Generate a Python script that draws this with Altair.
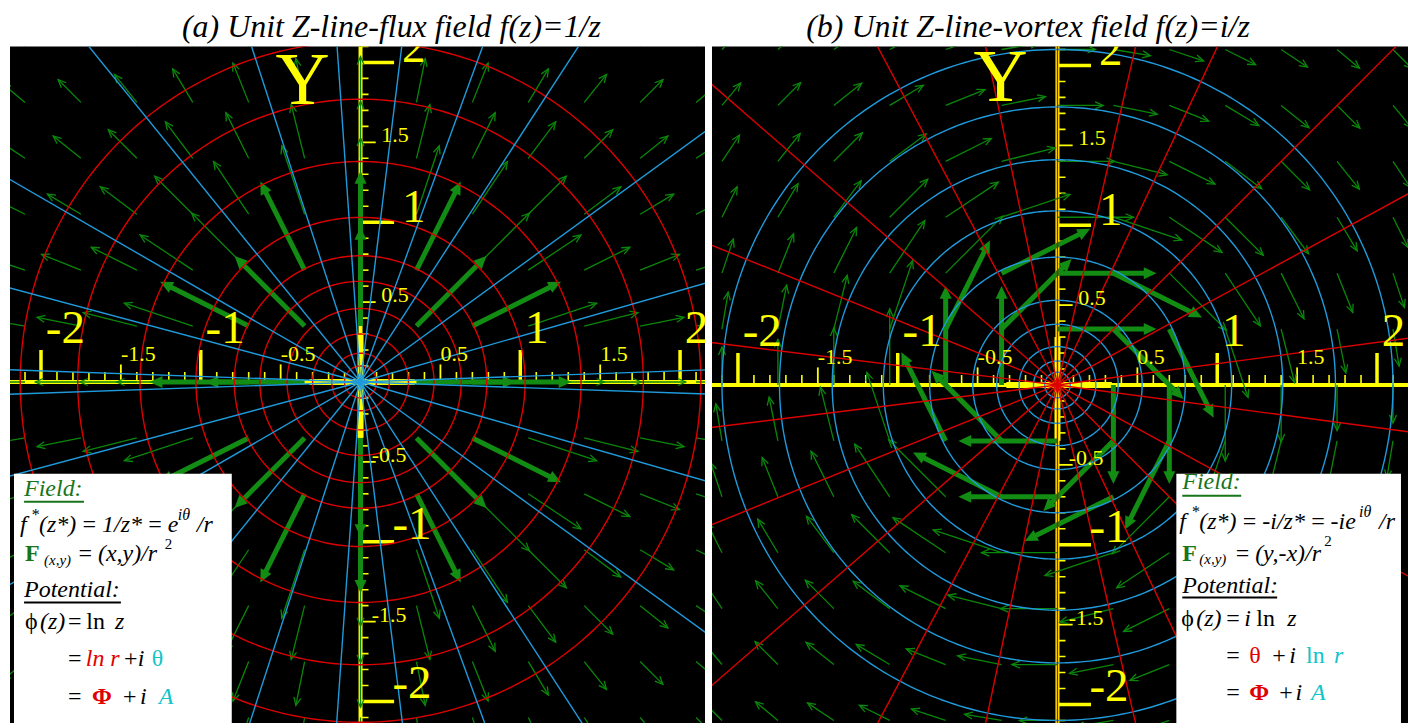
import math
import altair as alt
import numpy as np
import pandas as pd

# ---------------- values ----------------
TITLE_A = "(a) Unit Z-line-flux field f(z)=1/z"
TITLE_B = "(b) Unit Z-line-vortex field f(z)=i/z"

# panel (a): red equipotential circles, blue radial flux lines (degrees)
A_RED_RADII = [2.13, 1.77, 1.38, 1.03, 0.79, 0.63, 0.46, 0.30, 0.18, 0.10]
A_BLUE_ANGLES = [2, 16, 36, 57, 70, 83, 94, 108, 129, 150, 165, 178,
                 -2, -16, -36, -57, -70, -83, -94, -108, -129, -150, -165, -178]
# panel (b): blue stream circles, red radial potential lines (degrees)
B_BLUE_RADII = [2.10, 1.74, 1.41, 1.09, 0.80, 0.53, 0.38, 0.24, 0.15, 0.08]
B_RED_ANGLES = [7.6, 28.6, 45, 64.7, 77, 90, 102, 118, 139, 158, 173,
                -7.6, -28.6, -45, -64.7, -77, -90, -102, -118, -139, -158, -173]

# arrow grid of the vector field
GRID_STEP = 0.35
ARROW_GAIN = 0.5
ARROW_CAP = 0.62
THICK_BELOW = 0.9

MAJOR_TICKS = [-2, -1, 1, 2]
MAJOR_LABELS = ["-2", "-1", "1", "2"]
HALF_TICKS = [-1.5, -0.5, 0.5, 1.5]
HALF_LABELS = ["-1.5", "-0.5", "0.5", "1.5"]
MINOR_TICKS = [round(k / 10, 1) for k in range(-21, 22) if k % 5 != 0]

A_XDOM, A_YDOM = [-2.194, 2.156], [-2.1375, 2.1]
B_XDOM, B_YDOM = [-2.1625, 2.194], [-2.119, 2.119]

# legend box texts: (text, x, y, size, style, weight, colour)
BLACK, GREEN_T, RED_T, CYAN_T = "#000000", "#17751a", "#e00000", "#12c4c8"
A_RUNS = [
    ("Field:", -2.106, -0.7125, 24, "italic", "normal", GREEN_T),
    ("f", -2.131, -0.9375, 24, "italic", "normal", BLACK),
    ("*", -2.0625, -0.8625, 16, "italic", "normal", BLACK),
    ("(z*)\u2009=\u20091/z*\u2009=\u2009e", -2.0125, -0.9375, 24, "italic", "normal", BLACK),
    ("iθ", -1.144, -0.8625, 16, "italic", "normal", BLACK),
    ("/r", -1.025, -0.9375, 24, "italic", "normal", BLACK),
    ("F", -2.1, -1.119, 24, "normal", "bold", GREEN_T),
    ("(x,y)", -1.981, -1.144, 15, "italic", "normal", BLACK),
    ("=\u2009(x,y)/r", -1.775, -1.119, 24, "italic", "normal", BLACK),
    ("2", -1.225, -1.044, 15, "normal", "normal", BLACK),
    ("Potential:", -2.106, -1.344, 24, "italic", "normal", BLACK),
    ("\u03d5", -2.1, -1.544, 24, "normal", "normal", BLACK),
    ("(z)", -2.006, -1.544, 24, "italic", "normal", BLACK),
    ("=\u2009ln", -1.831, -1.544, 24, "normal", "normal", BLACK),
    ("z", -1.5375, -1.544, 24, "italic", "normal", BLACK),
    ("=", -1.831, -1.775, 24, "normal", "normal", BLACK),
    ("ln r", -1.72, -1.775, 24, "italic", "normal", RED_T),
    ("+", -1.481, -1.775, 24, "normal", "normal", BLACK),
    ("i", -1.394, -1.775, 24, "italic", "normal", BLACK),
    ("θ", -1.306, -1.775, 24, "normal", "normal", CYAN_T),
    ("=", -1.831, -2.0125, 24, "normal", "normal", BLACK),
    ("Φ", -1.681, -2.0125, 24, "normal", "bold", RED_T),
    ("+", -1.4875, -2.0125, 24, "normal", "normal", BLACK),
    ("i", -1.381, -2.0125, 24, "italic", "normal", BLACK),
    ("A", -1.2625, -2.0125, 24, "italic", "normal", CYAN_T),
]
A_UNDERLINES = [(-2.106, -1.731, -0.75, GREEN_T), (-2.106, -1.5, -1.381, BLACK)]
A_BOX = (-2.169, -0.806, -0.575, -2.5)

B_RUNS = [
    ("Field:", 0.781, -0.65, 24, "italic", "normal", GREEN_T),
    ("f", 0.7625, -0.9, 24, "italic", "normal", BLACK),
    ("*", 0.8375, -0.825, 16, "italic", "normal", BLACK),
    ("(z*)\u2009=\u2009-i/z*\u2009=\u2009-ie", 0.8875, -0.9, 24, "italic", "normal", BLACK),
    ("iθ", 1.8875, -0.825, 16, "italic", "normal", BLACK),
    ("/r", 2.0125, -0.9, 24, "italic", "normal", BLACK),
    ("F", 0.781, -1.1, 24, "normal", "bold", GREEN_T),
    ("(x,y)", 0.8875, -1.119, 15, "italic", "normal", BLACK),
    ("=\u2009(y,-x)/r", 1.106, -1.1, 24, "italic", "normal", BLACK),
    ("2", 1.67, -1.006, 15, "normal", "normal", BLACK),
    ("Potential:", 0.781, -1.3, 24, "italic", "normal", BLACK),
    ("\u03d5", 0.775, -1.506, 24, "normal", "normal", BLACK),
    ("(z)", 0.869, -1.506, 24, "italic", "normal", BLACK),
    ("=", 1.056, -1.506, 24, "normal", "normal", BLACK),
    ("i", 1.169, -1.506, 24, "italic", "normal", BLACK),
    ("ln", 1.244, -1.506, 24, "normal", "normal", BLACK),
    ("z", 1.4375, -1.506, 24, "italic", "normal", BLACK),
    ("=", 1.056, -1.7375, 24, "normal", "normal", BLACK),
    ("θ", 1.2, -1.7375, 24, "normal", "normal", RED_T),
    ("+", 1.344, -1.7375, 24, "normal", "normal", BLACK),
    ("i", 1.45, -1.7375, 24, "italic", "normal", BLACK),
    ("ln", 1.556, -1.7375, 24, "normal", "normal", CYAN_T),
    ("r", 1.731, -1.7375, 24, "italic", "normal", CYAN_T),
    ("=", 1.056, -1.969, 24, "normal", "normal", BLACK),
    ("Φ", 1.2, -1.969, 24, "normal", "bold", RED_T),
    ("+", 1.3875, -1.969, 24, "normal", "normal", BLACK),
    ("i", 1.49, -1.969, 24, "italic", "normal", BLACK),
    ("A", 1.5875, -1.969, 24, "italic", "normal", CYAN_T),
]
B_UNDERLINES = [(0.781, 1.15, -0.694, GREEN_T), (0.781, 1.375, -1.331, BLACK)]
B_BOX = (0.744, 2.15, -0.556, -2.5)

# ---------------- styles ----------------
YEL = "#ffff00"
RED = "#dd0000"
BLUE = "#1f9bdc"
GREEN_THIN = "#0a870a"
GREEN_THICK = "#128c12"
SERIF = "Liberation Serif"

THIN_HEAD = "M-0.7,1.6L0,0L0.7,1.6"
THICK_HEAD = "M0,0L-0.75,1.6L0.75,1.6Z"


def circles_df(radii):
    rows = []
    t = np.linspace(0, 2 * np.pi, 361)
    for k, r in enumerate(radii):
        for n, tt in enumerate(t):
            rows.append({"id": k, "n": n, "x": r * np.cos(tt), "y": r * np.sin(tt)})
    return pd.DataFrame(rows)


def radial_df(angles, R=3.5):
    return pd.DataFrame({
        "x": [0.0] * len(angles), "y": [0.0] * len(angles),
        "x2": [R * math.cos(math.radians(a)) for a in angles],
        "y2": [R * math.sin(math.radians(a)) for a in angles],
    })


def arrows_df(kind):
    rows = []
    for i in range(-7, 8):
        for j in range(-7, 8):
            if i == 0 and j == 0:
                continue
            x, y = i * GRID_STEP, j * GRID_STEP
            r2 = x * x + y * y
            if kind == "flux":
                fx, fy = x / r2, y / r2
            else:
                fx, fy = y / r2, -x / r2
            mag = math.hypot(fx, fy)
            L = min(ARROW_GAIN * mag, ARROW_CAP)
            ux, uy = fx / mag, fy / mag
            thick = math.sqrt(r2) < THICK_BELOW
            tx, ty = x + L * ux, y + L * uy
            back = 0.06 if thick else 0.0
            rows.append({
                "x": x, "y": y, "x2": tx - back * ux, "y2": ty - back * uy,
                "tx": tx, "ty": ty,
                "a": (90 - math.degrees(math.atan2(uy, ux))) % 360,
                "thick": thick,
            })
    return pd.DataFrame(rows)


def panel(xdom, ydom, width, title, tdx, circ_r, circ_col, rad_a, rad_col,
          kind, runs, underlines, box, ycap_x, ycap_y):
    xs = alt.Scale(domain=xdom, nice=False, zero=False)
    ys = alt.Scale(domain=ydom, nice=False, zero=False)
    X = lambda f="x": alt.X(f"{f}:Q", scale=xs, axis=None)
    Y = lambda f="y": alt.Y(f"{f}:Q", scale=ys, axis=None)

    layers = []
    # yellow axes
    ax = pd.DataFrame({"x": [-3.0, 0.0], "x2": [3.0, 0.0], "y": [0.0, -3.0], "y2": [0.0, 3.0]})
    layers.append(alt.Chart(ax).mark_rule(color=YEL, strokeWidth=4, clip=True)
                  .encode(x=X(), x2="x2:Q", y=Y(), y2="y2:Q"))
    core = pd.DataFrame({"x": [-0.32, 0.0], "x2": [0.34, 0.0], "y": [0.0, -0.35], "y2": [0.0, 0.3]})
    layers.append(alt.Chart(core).mark_rule(color=YEL, strokeWidth=6, clip=True)
                  .encode(x=X(), x2="x2:Q", y=Y(), y2="y2:Q"))
    # ticks
    for vals, hx, hy, sw in [(MINOR_TICKS, 0.0625, 0.05, 1.6),
                             (HALF_TICKS, 0.11, 0.095, 1.8),
                             (MAJOR_TICKS, 0.2, 0.21, 3.5)]:
        tx = pd.DataFrame({"x": vals, "x2": vals, "y": [0.0] * len(vals), "y2": [hx] * len(vals)})
        ty = pd.DataFrame({"y": vals, "y2": vals, "x": [0.0] * len(vals), "x2": [hy] * len(vals)})
        for d in (tx, ty):
            layers.append(alt.Chart(d).mark_rule(color=YEL, strokeWidth=sw, clip=True)
                          .encode(x=X(), x2="x2:Q", y=Y(), y2="y2:Q"))
    # green arrows
    arr = arrows_df(kind)
    thin = arr[~arr["thick"]]
    thk = arr[arr["thick"]]
    layers.append(alt.Chart(thin).mark_rule(color=GREEN_THIN, strokeWidth=1.3, clip=True)
                  .encode(x=X(), x2="x2:Q", y=Y(), y2="y2:Q"))
    layers.append(alt.Chart(thin).mark_point(shape=THIN_HEAD, size=100, filled=False,
                                             color=GREEN_THIN, strokeWidth=1.3, opacity=1, clip=True)
                  .encode(x=X("tx"), y=Y("ty"), angle=alt.Angle("a:Q", scale=None)))
    layers.append(alt.Chart(thk).mark_rule(color=GREEN_THICK, strokeWidth=5, clip=True)
                  .encode(x=X(), x2="x2:Q", y=Y(), y2="y2:Q"))
    layers.append(alt.Chart(thk).mark_point(shape=THICK_HEAD, size=256, filled=True,
                                            color=GREEN_THICK, opacity=1, clip=True)
                  .encode(x=X("tx"), y=Y("ty"), angle=alt.Angle("a:Q", scale=None)))
    # circles and radial lines
    layers.append(alt.Chart(circles_df(circ_r)).mark_line(color=circ_col, strokeWidth=1.4, clip=True)
                  .encode(x=X(), y=Y(), detail="id:N", order="n:Q"))
    layers.append(alt.Chart(radial_df(rad_a)).mark_rule(color=rad_col, strokeWidth=1.4, clip=True)
                  .encode(x=X(), x2="x2:Q", y=Y(), y2="y2:Q"))
    # axis labels
    maj_x = pd.DataFrame({"x": [v + 0.03 for v in MAJOR_TICKS], "y": [0.245] * 4, "t": MAJOR_LABELS})
    half_x = pd.DataFrame({"x": [v + 0.0 for v in HALF_TICKS], "y": [0.13] * 4, "t": HALF_LABELS})
    maj_y = pd.DataFrame({"x": [0.2 if v < 0 else 0.26 for v in MAJOR_TICKS],
                          "y": [v + 0.02 if v < 0 else v for v in MAJOR_TICKS], "t": MAJOR_LABELS})
    half_y = pd.DataFrame({"x": [0.07 if v < 0 else 0.13 for v in HALF_TICKS],
                           "y": HALF_TICKS, "t": HALF_LABELS})
    for d, fs in [(maj_x, 47), (maj_y, 47), (half_x, 22), (half_y, 22)]:
        layers.append(alt.Chart(d).mark_text(font=SERIF, fontSize=fs, color=YEL, align="left",
                                             baseline="alphabetic", clip=True)
                      .encode(x=X(), y=Y(), text="t:N"))
    ycap = pd.DataFrame({"x": [ycap_x], "y": [ycap_y], "t": ["Y"]})
    layers.append(alt.Chart(ycap).mark_text(font=SERIF, fontSize=75, color=YEL, align="center",
                                            baseline="alphabetic", clip=True)
                  .encode(x=X(), y=Y(), text="t:N"))
    # legend box
    bx = pd.DataFrame({"x": [box[0]], "x2": [box[1]], "y": [box[2]], "y2": [box[3]]})
    layers.append(alt.Chart(bx).mark_rect(color="white", clip=True)
                  .encode(x=X(), x2="x2:Q", y=Y(), y2="y2:Q"))
    ul = pd.DataFrame({"x": [u[0] for u in underlines], "x2": [u[1] for u in underlines],
                       "y": [u[2] for u in underlines], "y2": [u[2] for u in underlines],
                       "c": [u[3] for u in underlines]})
    layers.append(alt.Chart(ul).mark_rule(strokeWidth=2, clip=True)
                  .encode(x=X(), x2="x2:Q", y=Y(), y2="y2:Q", color=alt.Color("c:N", scale=None)))
    rd = pd.DataFrame(runs, columns=["t", "x", "y", "s", "style", "weight", "c"])
    for (st, wt), g in rd.groupby(["style", "weight"]):
        layers.append(alt.Chart(g).mark_text(font=SERIF, fontStyle=st, fontWeight=wt, align="left",
                                             baseline="alphabetic", clip=True)
                      .encode(x=X(), y=Y(), text="t:N",
                              color=alt.Color("c:N", scale=None),
                              size=alt.Size("s:Q", scale=None)))

    return alt.layer(*layers).properties(
        width=width, height=678,
        title=alt.TitleParams(title, font=SERIF, fontStyle="italic", fontWeight="normal",
                              fontSize=32, color="black", anchor="middle", dx=tdx, offset=2),
    )


left = panel(A_XDOM, A_YDOM, 696, TITLE_A, 34, A_RED_RADII, RED, A_BLUE_ANGLES, BLUE,
             "flux", A_RUNS, A_UNDERLINES, A_BOX, -0.363, 1.7375)
right = panel(B_XDOM, B_YDOM, 697, TITLE_B, -32, B_BLUE_RADII, BLUE, B_RED_ANGLES, RED,
              "vortex", B_RUNS, B_UNDERLINES, B_BOX, -0.356, 1.775)

chart = (alt.hconcat(left, right, spacing=7)
         .properties(padding={"left": 2, "top": 3, "right": 0, "bottom": 0})
         .configure_view(fill="black", stroke=None))

chart.save("out.html", embed_options={"renderer": "svg", "actions": False})
